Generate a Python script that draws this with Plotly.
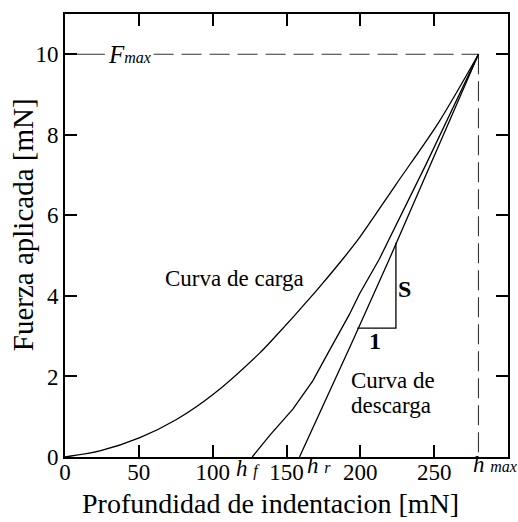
import plotly.graph_objects as go

# Loading curve (Curva de carga)
load_x = [0, 23.6, 50.7, 75.5, 100.2, 131.8, 139.7, 170, 188, 199.3, 224, 253.4, 280]
load_y = [0, 0.15, 0.48, 0.93, 1.55, 2.58, 2.88, 4.12, 4.91, 5.44, 6.76, 8.33, 10]

# Unloading curve ending at h_f
unl_f_x = [126.8, 138.5, 154.3, 167.8, 179, 192.6, 199.3, 212.8, 244.4, 280]
unl_f_y = [0, 0.53, 1.19, 1.89, 2.64, 3.54, 4.04, 4.91, 7.26, 10]

# Unloading tangent line ending at h_r
unl_r_x = [158.8, 194.8, 219.6, 280]
unl_r_y = [0, 2.88, 4.91, 10]

# Stiffness triangle
tri_x = [198, 224.1, 224.1]
tri_y = [3.2, 3.2, 5.32]

# Reference values
F_max = 10
h_max = 280
h_f = 124
h_r = 172

x_ticks = [0, 50, 100, 150, 200, 250]
y_ticks = [0, 2, 4, 6, 8, 10]

SERIF = "Liberation Serif"
LW = 1.3

fig = go.Figure()

# Fmax guide: solid short part, then dashed
fig.add_trace(go.Scatter(x=[0, 27], y=[F_max, F_max], mode="lines",
                         line=dict(color="#333", width=1.1), hoverinfo="skip"))
fig.add_trace(go.Scatter(x=[60, h_max], y=[F_max, F_max], mode="lines",
                         line=dict(color="#333", width=1.1, dash="20px,8px"), hoverinfo="skip"))
# hmax guide
fig.add_trace(go.Scatter(x=[h_max, h_max], y=[F_max, 0], mode="lines",
                         line=dict(color="#333", width=1.1, dash="20px,7px"), hoverinfo="skip"))

fig.add_trace(go.Scatter(x=load_x, y=load_y, mode="lines",
                         line=dict(color="black", width=LW, shape="spline", smoothing=0.8),
                         hoverinfo="skip"))
for xs, ys in [(unl_f_x, unl_f_y), (unl_r_x, unl_r_y), (tri_x, tri_y)]:
    fig.add_trace(go.Scatter(x=xs, y=ys, mode="lines",
                             line=dict(color="black", width=LW), hoverinfo="skip"))

ann = []
def add(text, x, y, size=23, xanchor="center", yanchor="middle", xref="x", yref="y", angle=0):
    ann.append(dict(text=text, x=x, y=y, xref=xref, yref=yref, showarrow=False,
                    xanchor=xanchor, yanchor=yanchor, textangle=angle,
                    font=dict(family=SERIF, size=size, color="black")))

add("Curva de carga", 115, 4.42)
add("Curva de", 192.6, 1.89, xanchor="left")
add("descarga", 192.6, 1.27, xanchor="left")
add("<b>S</b>", 230.2, 4.16, size=24)
add("<b>1</b>", 209.9, 2.88, size=24)
add("<i>F</i><i><span style='font-size:16px'>max</span></i>", 44, F_max, size=25)
add("<i>h</i> <i><span style='font-size:16px'>f</span></i>", h_f, -0.027, size=23, yref="paper")
add("<i>h</i> <i><span style='font-size:16px'>r</span></i>", h_r, -0.019, size=23, yref="paper")
add("<i>h</i> <i><span style='font-size:16px'>max</span></i>", 291, -0.017, size=23, yref="paper")

# Axis titles
add("Profundidad de indentacion [mN]", 0.463, -0.106, size=28, xref="paper", yref="paper")
add("Fuerza aplicada [mN]", -0.094, 0.524, size=29, xref="paper", yref="paper", angle=-90)

axis_common = dict(ticks="inside", ticklen=12, tickwidth=2, tickcolor="black",
                   showline=True, linecolor="black", linewidth=2, mirror="ticks",
                   showgrid=False, zeroline=False,
                   tickfont=dict(family=SERIF, size=23, color="black"))

fig.update_layout(
    width=518, height=522,
    margin=dict(l=65, r=8, t=14, b=65),
    paper_bgcolor="white", plot_bgcolor="white",
    showlegend=False,
    annotations=ann,
    font=dict(family=SERIF, color="black"),
    xaxis=dict(range=[0, 300], tickvals=x_ticks, ticklabelstandoff=-7, **axis_common),
    yaxis=dict(range=[0, 11], tickvals=y_ticks, **axis_common),
)

fig.write_html("out.html")
